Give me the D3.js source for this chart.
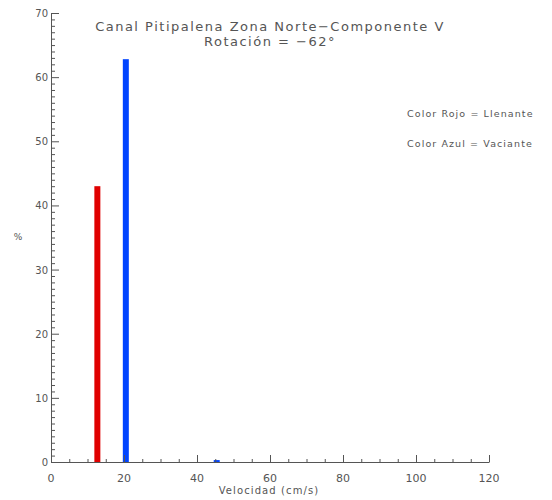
<!DOCTYPE html>
<html>
<head>
<meta charset="utf-8">
<script src="https://cdn.jsdelivr.net/npm/d3@7"></script>
<style>
  html, body { margin: 0; padding: 0; background: #fff; }
  svg text { font-family: "DejaVu Sans", sans-serif; fill: #555; }
</style>
</head>
<body>
<svg id="chart" width="552" height="500"></svg>
<script>
// Histogram of velocities: flood (red) and ebb (blue)
const floodVelocity = [12.7];
const floodPercent = [43.0];
const ebbVelocity = [20.5, 45.4];
const ebbPercent = [62.8, 0.3];

const xTicks = [0, 20, 40, 60, 80, 100, 120];
const yTicks = [0, 10, 20, 30, 40, 50, 60, 70];
const titleLines = ["Canal Pitipalena Zona Norte\u2212Componente V", "Rotaci\u00f3n = \u221262\u00b0"];
const legendLines = ["Color Rojo = Llenante", "Color Azul = Vaciante"];
const xLabel = "Velocidad (cm/s)";
const yLabel = "%";

const svg = d3.select("#chart");
const margin = { left: 51, right: 63, top: 13, bottom: 38 };
const W = 552, H = 500;

const x = d3.scaleLinear().domain([0, 120]).range([margin.left, W - margin.right]);
const y = d3.scaleLinear().domain([0, 70]).range([H - margin.bottom, margin.top]);

const axisColor = "#555";

// bars
const bars = [
  ...floodVelocity.map((v, i) => ({ v, p: floodPercent[i], c: "#e00000" })),
  ...ebbVelocity.map((v, i) => ({ v, p: ebbPercent[i], c: "#0044ff" }))
];
svg.append("g").selectAll("rect").data(bars).join("rect")
  .attr("x", d => x(d.v) - 3)
  .attr("width", 6)
  .attr("y", d => y(d.p))
  .attr("height", d => y(0) - y(d.p))
  .attr("fill", d => d.c);

// x axis, ticks pointing up into the plot
const xMinor = d3.range(0, 121, 5).filter(v => v % 20 !== 0);
const gx = svg.append("g").attr("transform", `translate(0,${y(0)})`);
gx.call(d3.axisTop(x).tickValues(xMinor).tickSize(3).tickFormat(""));
gx.call(g => g.select(".domain").remove());
const gxMaj = svg.append("g").attr("transform", `translate(0,${y(0)})`)
  .call(d3.axisTop(x).tickValues(xTicks).tickSize(7).tickSizeOuter(0).tickFormat(""));
gxMaj.selectAll("line, path").attr("stroke", axisColor);
gx.selectAll("line").attr("stroke", axisColor);
svg.append("g").selectAll("text").data(xTicks).join("text")
  .attr("x", d => x(d)).attr("y", y(0) + 20)
  .attr("text-anchor", "middle").attr("font-size", 11)
  .text(d => d);

// y axis, ticks pointing right into the plot
const yMinor = d3.range(0, 71, 1).filter(v => v % 10 !== 0);
const gy = svg.append("g").attr("transform", `translate(${x(0)},0)`)
  .call(d3.axisRight(y).tickValues(yMinor).tickSize(4).tickFormat(""));
gy.select(".domain").remove();
gy.selectAll("line").attr("stroke", axisColor);
const gyMaj = svg.append("g").attr("transform", `translate(${x(0)},0)`)
  .call(d3.axisRight(y).tickValues(yTicks).tickSize(8).tickSizeOuter(0).tickFormat(""));
gyMaj.selectAll("line, path").attr("stroke", axisColor);
svg.append("g").selectAll("text").data(yTicks).join("text")
  .attr("x", x(0) - 3).attr("y", d => y(d) + 4)
  .attr("text-anchor", "end").attr("font-size", 10)
  .text(d => d);

// axis titles
svg.append("text").attr("x", 269).attr("y", 494)
  .attr("text-anchor", "middle").attr("font-size", 10)
  .attr("letter-spacing", 1.1).text(xLabel);
svg.append("text").attr("x", 18).attr("y", 240)
  .attr("text-anchor", "middle").attr("font-size", 9).text(yLabel);

// title
svg.append("g").selectAll("text").data(titleLines).join("text")
  .attr("x", 270).attr("y", (d, i) => 31 + i * 15)
  .attr("text-anchor", "middle").attr("font-size", 13)
  .attr("letter-spacing", 1.5)
  .text(d => d);

// legend text
svg.append("g").selectAll("text").data(legendLines).join("text")
  .attr("x", 407).attr("y", (d, i) => 117 + i * 30)
  .attr("font-size", 9.5)
  .attr("letter-spacing", 1.1)
  .text(d => d);
</script>
</body>
</html>
